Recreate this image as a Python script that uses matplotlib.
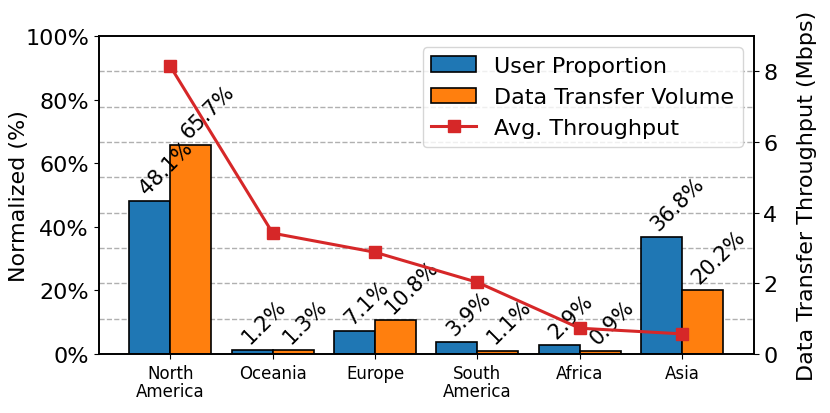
import numpy as np
import matplotlib
matplotlib.use("Agg")
import matplotlib.pyplot as plt
from matplotlib.ticker import FixedLocator

regions = ["North\nAmerica", "Oceania", "Europe", "South\nAmerica", "Africa", "Asia"]
user_prop = [48.1, 1.2, 7.1, 3.9, 2.9, 36.8]
data_volume = [65.7, 1.3, 10.8, 1.1, 0.9, 20.2]
throughput = [8.14, 3.42, 2.88, 2.03, 0.73, 0.57]

x = np.arange(len(regions))
w = 0.4

fig = plt.figure(figsize=(8.3, 4.14), dpi=100)
ax1 = fig.add_axes([0.119, 0.1425, 0.789, 0.768])
ax2 = ax1.twinx()

b1 = ax1.bar(x - w / 2, user_prop, w, color="#1f77b4", edgecolor="black",
             linewidth=1.2, label="User Proportion")
b2 = ax1.bar(x + w / 2, data_volume, w, color="#ff7f0e", edgecolor="black",
             linewidth=1.2, label="Data Transfer Volume")

for bars in (b1, b2):
    for r in bars:
        h = r.get_height()
        ax1.text(r.get_x() + r.get_width() / 2, h + 1.0, "%.1f%%" % h,
                 rotation=45, rotation_mode="anchor", ha="left", va="bottom",
                 fontsize=15)

ax1.set_xlim(-0.7, 5.7)
ax1.set_ylim(0, 100)
ax1.set_yticks(np.arange(0, 101, 20))
ax1.set_yticklabels(["%d%%" % v for v in range(0, 101, 20)], fontsize=16)
ax1.set_xticks(x)
ax1.set_xticklabels(regions, fontsize=12, linespacing=1.0)
ax1.set_ylabel("Normalized (%)", fontsize=16, labelpad=-3)

# grid follows the right axis (every 1 Mbps)
ax1.yaxis.set_minor_locator(FixedLocator(np.arange(1, 9) * 100 / 9))
ax1.tick_params(axis="y", which="minor", length=0)
ax1.grid(axis="y", which="minor", linestyle="--", color="#b0b0b0", linewidth=1)
ax1.set_axisbelow(True)

ln, = ax2.plot(x, throughput, color="#d62728", marker="s", markersize=8,
               linewidth=2.2, label="Avg. Throughput")
ax2.set_ylim(0, 9)
ax2.set_yticks([0, 2, 4, 6, 8])
ax2.tick_params(axis="y", labelsize=16)
ax2.set_ylabel("Data Transfer Throughput (Mbps)", fontsize=16, labelpad=14)

for ax in (ax1, ax2):
    for s in ax.spines.values():
        s.set_linewidth(1.2)

ax1.legend([b1, b2, ln], ["User Proportion", "Data Transfer Volume", "Avg. Throughput"],
           loc="upper right", fontsize=16)

fig.savefig("out.png", dpi=100)
